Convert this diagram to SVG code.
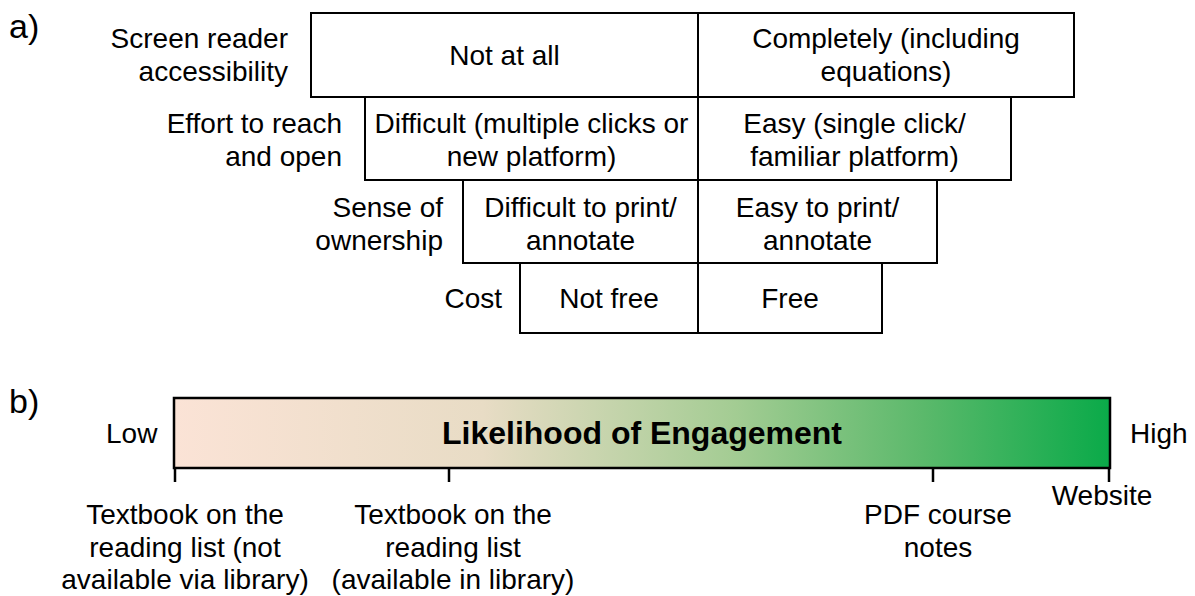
<svg xmlns="http://www.w3.org/2000/svg" width="1195" height="596" viewBox="0 0 1195 596">
  <style>
    .t { font-family: "Liberation Sans", Arial, sans-serif; font-size: 28px; fill: #000; }
    .c { text-anchor: middle; }
    .r { text-anchor: end; }
    .panel { font-family: "Liberation Sans", Arial, sans-serif; font-size: 34px; fill: #000; }
    .cell { fill: #fff; stroke: #000; stroke-width: 2; }
    .div { stroke: #000; stroke-width: 2; }
    .tick { stroke: #000; stroke-width: 2.5; }
    .title { font-family: "Liberation Sans", Arial, sans-serif; font-size: 32px; font-weight: bold; fill: #000; text-anchor: middle; }
  </style>
  <defs>
    <linearGradient id="engage" x1="0" y1="0" x2="1" y2="0">
      <stop offset="0" stop-color="#FBE3D6"/>
      <stop offset="0.33" stop-color="#E8DCC5"/>
      <stop offset="0.6" stop-color="#A3CC93"/>
      <stop offset="0.8" stop-color="#5BB96B"/>
      <stop offset="1" stop-color="#0AAA49"/>
    </linearGradient>
  </defs>
  <rect width="1195" height="596" fill="#fff"/>

  <!-- panel a: stepped comparison table -->
  <text class="panel" x="9" y="38">a)</text>

  <g id="row-screen-reader">
    <rect class="cell" x="311" y="13" width="763" height="84"/>
    <text class="t r" x="288" y="48">Screen reader</text>
    <text class="t r" x="288" y="81">accessibility</text>
    <text class="t c" x="504.5" y="65">Not at all</text>
    <text class="t c" x="886" y="48">Completely (including</text>
    <text class="t c" x="886" y="81">equations)</text>
  </g>

  <g id="row-effort">
    <rect class="cell" x="365" y="97" width="646" height="83"/>
    <text class="t r" x="342" y="133">Effort to reach</text>
    <text class="t r" x="342" y="166">and open</text>
    <text class="t c" x="531.5" y="133">Difficult (multiple clicks or</text>
    <text class="t c" x="531.5" y="166">new platform)</text>
    <text class="t c" x="854.5" y="133">Easy (single click/</text>
    <text class="t c" x="854.5" y="166">familiar platform)</text>
  </g>

  <g id="row-ownership">
    <rect class="cell" x="463" y="180" width="474" height="83"/>
    <text class="t r" x="443" y="217">Sense of</text>
    <text class="t r" x="443" y="250">ownership</text>
    <text class="t c" x="580.5" y="217">Difficult to print/</text>
    <text class="t c" x="580.5" y="250">annotate</text>
    <text class="t c" x="817.5" y="217">Easy to print/</text>
    <text class="t c" x="817.5" y="250">annotate</text>
  </g>

  <g id="row-cost">
    <rect class="cell" x="520" y="263" width="362" height="70"/>
    <text class="t r" x="502" y="308">Cost</text>
    <text class="t c" x="609" y="308">Not free</text>
    <text class="t c" x="790" y="308">Free</text>
  </g>

  <g id="dividers">
    <line class="div" x1="698" y1="13" x2="698" y2="333"/>
  </g>

  <!-- panel b: engagement scale -->
  <text class="panel" x="9" y="413">b)</text>

  <g id="scale">
    <rect x="174" y="398" width="936" height="70" fill="url(#engage)" stroke="#000" stroke-width="2.5"/>
    <text class="title" x="642" y="444">Likelihood of Engagement</text>
    <text class="t" x="106" y="443">Low</text>
    <text class="t" x="1130" y="443">High</text>
  </g>

  <g id="ticks">
    <line class="tick" x1="175" y1="468" x2="175" y2="482"/>
    <line class="tick" x1="449" y1="468" x2="449" y2="482"/>
    <line class="tick" x1="933" y1="468" x2="933" y2="482"/>
    <line class="tick" x1="1109" y1="468" x2="1109" y2="482"/>
  </g>

  <g id="label-textbook-not-available">
    <text class="t c" x="185" y="524">Textbook on the</text>
    <text class="t c" x="185" y="557">reading list (not</text>
    <text class="t c" x="185" y="589">available via library)</text>
  </g>
  <g id="label-textbook-available">
    <text class="t c" x="453" y="524">Textbook on the</text>
    <text class="t c" x="453" y="557">reading list</text>
    <text class="t c" x="453" y="589">(available in library)</text>
  </g>
  <g id="label-pdf">
    <text class="t c" x="938" y="524">PDF course</text>
    <text class="t c" x="938" y="557">notes</text>
  </g>
  <g id="label-website">
    <text class="t c" x="1102" y="505">Website</text>
  </g>
</svg>
